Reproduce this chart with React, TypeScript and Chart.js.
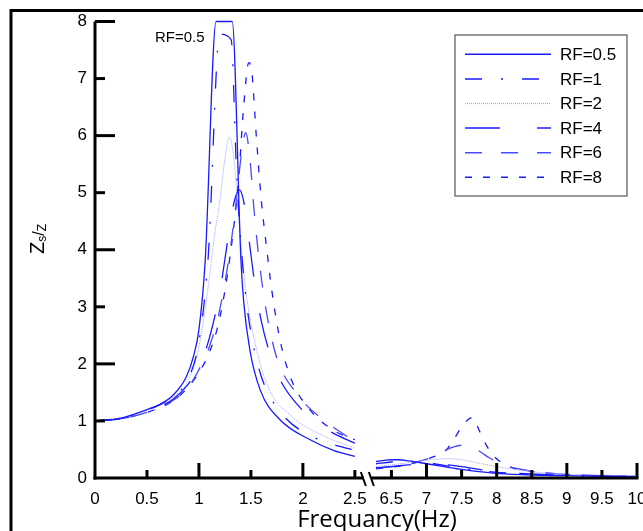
import React, { useEffect, useRef } from 'react';
import { Chart, registerables } from 'chart.js';

Chart.register(...registerables);

// ---------- data ----------
const seriesLabels = ['RF=0.5', 'RF=1', 'RF=2', 'RF=4', 'RF=6', 'RF=8'];

const xTickValues = [0, 0.5, 1, 1.5, 2, 2.5, 6.5, 7, 7.5, 8, 8.5, 9, 9.5, 10];
const xTickLabels = ['0', '0.5', '1', '1.5', '2', '2.5', '6.5', '7', '7.5', '8', '8.5', '9', '9.5', '10'];
const xLongTicks = [1, 2, 7, 8, 9, 10];
const yTickValues = [0, 1, 2, 3, 4, 5, 6, 7, 8];
const yLongTicks = [2, 4, 6, 8];

// RF=0.5
const rf05LeftX = [0, 0.25, 0.5, 0.625, 0.75, 0.88, 0.95, 1.0, 1.06, 1.165, 1.32, 1.404, 1.43, 1.49, 1.59, 1.78, 2.07, 2.3, 2.5];
const rf05LeftY = [1.0, 1.05, 1.2, 1.29, 1.45, 1.78, 2.15, 2.6, 3.8, 8, 8, 3.82, 3.1, 2.24, 1.54, 1.02, 0.67, 0.48, 0.38];
const rf05RightX = [6.28, 6.4, 6.5, 6.6, 6.75, 7.0, 7.25, 7.5, 7.75, 8, 8.5, 9, 9.5, 10];
const rf05RightY = [0.29, 0.31, 0.32, 0.32, 0.3, 0.25, 0.2, 0.15, 0.11, 0.08, 0.05, 0.04, 0.03, 0.02];

// RF=1
const rf1LeftX = [0, 0.25, 0.5, 0.75, 0.9, 1.0, 1.09, 1.2, 1.31, 1.36, 1.4, 1.45, 1.5, 1.6, 1.8, 2.1, 2.5];
const rf1LeftY = [1.0, 1.05, 1.19, 1.43, 1.75, 2.4, 3.9, 7.78, 7.68, 5.45, 4.2, 3.2, 2.55, 1.78, 1.12, 0.72, 0.48];
const rf1RightX = [6.28, 6.5, 6.75, 7.0, 7.25, 7.5, 7.75, 8, 8.5, 9, 9.5, 10];
const rf1RightY = [0.25, 0.28, 0.29, 0.27, 0.22, 0.17, 0.13, 0.1, 0.06, 0.04, 0.03, 0.02];

// RF=2
const rf2LeftX = [0, 0.25, 0.5, 0.75, 0.9, 1.0, 1.1, 1.15, 1.2, 1.25, 1.29, 1.33, 1.38, 1.45, 1.52, 1.65, 1.9, 2.2, 2.5];
const rf2LeftY = [1.0, 1.05, 1.18, 1.42, 1.72, 2.3, 3.5, 4.25, 4.85, 5.6, 5.97, 5.7, 4.6, 3.3, 2.54, 1.66, 1.07, 0.74, 0.52];
const rf2RightX = [6.28, 6.5, 6.75, 7.0, 7.3, 7.55, 7.75, 8.0, 8.25, 8.5, 9, 9.5, 10];
const rf2RightY = [0.2, 0.23, 0.27, 0.31, 0.34, 0.31, 0.26, 0.2, 0.15, 0.11, 0.07, 0.05, 0.03];

// RF=4
const rf4LeftX = [0, 0.25, 0.5, 0.75, 0.9, 1.0, 1.1, 1.2, 1.28, 1.34, 1.39, 1.43, 1.48, 1.53, 1.6, 1.75, 2.0, 2.25, 2.5];
const rf4LeftY = [1.0, 1.04, 1.16, 1.38, 1.65, 1.95, 2.45, 3.25, 4.2, 4.85, 5.05, 4.85, 4.2, 3.5, 2.75, 1.85, 1.18, 0.83, 0.61];
const rf4RightX = [6.28, 6.5, 6.75, 7.0, 7.2, 7.5, 7.75, 8, 8.5, 9, 9.5, 10];
const rf4RightY = [0.18, 0.2, 0.23, 0.25, 0.24, 0.2, 0.15, 0.11, 0.07, 0.05, 0.04, 0.03];

// RF=6
const rf6LeftX = [0, 0.25, 0.5, 0.75, 0.9, 1.0, 1.1, 1.2, 1.3, 1.36, 1.41, 1.45, 1.49, 1.53, 1.58, 1.65, 1.75, 1.94, 2.16, 2.5];
const rf6LeftY = [1.0, 1.04, 1.15, 1.36, 1.6, 1.9, 2.3, 2.95, 4.0, 4.87, 5.7, 6.05, 5.6, 4.7, 3.8, 2.9, 2.1, 1.48, 1.07, 0.64];
const rf6RightX = [6.28, 6.5, 6.75, 7.0, 7.15, 7.28, 7.4, 7.57, 7.69, 7.8, 7.9, 8.1, 8.4, 8.8, 9.5, 10];
const rf6RightY = [0.17, 0.2, 0.25, 0.33, 0.4, 0.49, 0.55, 0.58, 0.52, 0.43, 0.35, 0.23, 0.14, 0.08, 0.04, 0.03];

// RF=8
const rf8LeftX = [0, 0.25, 0.5, 0.75, 0.9, 1.0, 1.1, 1.2, 1.3, 1.38, 1.43, 1.48, 1.51, 1.55, 1.6, 1.65, 1.7, 1.78, 1.89, 2.07, 2.29, 2.5];
const rf8LeftY = [1.0, 1.04, 1.15, 1.35, 1.6, 1.85, 2.2, 2.8, 3.9, 5.2, 6.5, 7.28, 7.1, 6.04, 4.87, 4.05, 3.3, 2.42, 1.72, 1.19, 0.84, 0.67];
const rf8RightX = [6.28, 6.5, 6.75, 7.05, 7.28, 7.4, 7.52, 7.65, 7.76, 7.85, 7.97, 8.18, 8.47, 8.95, 9.5, 10];
const rf8RightY = [0.16, 0.19, 0.24, 0.35, 0.49, 0.7, 0.93, 1.06, 0.81, 0.58, 0.37, 0.2, 0.12, 0.065, 0.04, 0.02];

// ---------- broken axis mapping ----------
const BREAK_LEFT = 2.5;
const BREAK_RIGHT = 6.5;
const BREAK_GAP = 0.352;
const RIGHT_RATIO = 0.675;
function mapX(x: number): number {
  return x <= 4 ? x : BREAK_LEFT + BREAK_GAP + (x - BREAK_RIGHT) * RIGHT_RATIO;
}

function buildPoints(lx: number[], ly: number[], rx: number[], ry: number[]) {
  const pts: { x: number; y: number | null }[] = [];
  lx.forEach((x, i) => pts.push({ x: mapX(x), y: ly[i] }));
  pts.push({ x: mapX(4), y: null });
  rx.forEach((x, i) => pts.push({ x: mapX(x), y: ry[i] }));
  return pts;
}

const BLUE = '#1a1aff';
const styles = [
  { color: BLUE, width: 1.3, dash: [] as number[] },
  { color: BLUE, width: 1.3, dash: [17, 19, 2, 19] },
  { color: '#a0a0ff', width: 1, dash: [1, 1] },
  { color: BLUE, width: 1.3, dash: [35, 37] },
  { color: '#4a4aff', width: 1.3, dash: [17, 19] },
  { color: BLUE, width: 1.3, dash: [7, 11] },
];

const overlay = {
  id: 'overlay',
  afterDraw(chart: any) {
    const ctx = chart.ctx as CanvasRenderingContext2D;
    const xs = chart.scales.x;
    const ys = chart.scales.y;
    const left = chart.chartArea.left;
    const bottom = chart.chartArea.bottom;
    const top = chart.chartArea.top;
    ctx.save();
    ctx.strokeStyle = '#000';
    ctx.lineCap = 'butt';
    // outer frame
    ctx.lineWidth = 3;
    ctx.beginPath();
    ctx.moveTo(11, 531);
    ctx.lineTo(11, 10.5);
    ctx.lineTo(643, 10.5);
    ctx.stroke();
    // y axis
    ctx.beginPath();
    ctx.moveTo(left, bottom + 1.5);
    ctx.lineTo(left, top);
    ctx.stroke();
    // y ticks
    yTickValues.forEach((v) => {
      if (v === 0) return;
      const py = ys.getPixelForValue(v);
      const len = yLongTicks.includes(v) ? 20 : 10;
      ctx.beginPath();
      ctx.moveTo(left, py);
      ctx.lineTo(left + len, py);
      ctx.stroke();
    });
    // x axis (broken)
    const pBreakA = xs.getPixelForValue(mapX(BREAK_LEFT)) + 9;
    const pBreakB = pBreakA + 7;
    const pEnd = xs.getPixelForValue(mapX(10));
    ctx.beginPath();
    ctx.moveTo(left - 1.5, bottom);
    ctx.lineTo(pBreakA, bottom);
    ctx.moveTo(pBreakB, bottom);
    ctx.lineTo(pEnd + 1.5, bottom);
    ctx.stroke();
    // break marks
    ctx.lineWidth = 2;
    ctx.beginPath();
    ctx.moveTo(pBreakA - 3, bottom - 6);
    ctx.lineTo(pBreakA + 2, bottom + 8);
    ctx.moveTo(pBreakB - 2, bottom - 6);
    ctx.lineTo(pBreakB + 3, bottom + 8);
    ctx.stroke();
    ctx.lineWidth = 3;
    // x ticks
    xTickValues.forEach((v) => {
      if (v === 0) return;
      const px = xs.getPixelForValue(mapX(v));
      const len = xLongTicks.includes(v) ? 15 : 8;
      ctx.beginPath();
      ctx.moveTo(px, bottom);
      ctx.lineTo(px, bottom - len);
      ctx.stroke();
    });

    // annotation
    ctx.fillStyle = '#000';
    ctx.font = '15px "Liberation Sans", Arial, sans-serif';
    ctx.textAlign = 'left';
    ctx.textBaseline = 'middle';
    ctx.fillText('RF=0.5', 155, 37.5);

    // x title
    ctx.font = '24px "Open Sans", sans-serif';
    ctx.textAlign = 'center';
    ctx.textBaseline = 'alphabetic';
    ctx.fillText('Frequancy(Hz)', 377, 527);

    // y title
    ctx.save();
    ctx.translate(44, 254);
    ctx.rotate(-Math.PI / 2);
    ctx.textAlign = 'left';
    ctx.textBaseline = 'alphabetic';
    let cx = 0;
    ctx.font = '20px "Liberation Sans", Arial, sans-serif';
    ctx.fillText('Z', cx, 0);
    cx += ctx.measureText('Z').width;
    ctx.font = '12px "Liberation Sans", Arial, sans-serif';
    ctx.fillText('s', cx, 2);
    cx += ctx.measureText('s').width;
    ctx.font = '16px "Liberation Sans", Arial, sans-serif';
    ctx.fillText('/', cx, 0);
    cx += ctx.measureText('/').width;
    ctx.font = '12px "Liberation Sans", Arial, sans-serif';
    ctx.fillText('Z', cx, 2);
    ctx.restore();

    // legend
    const lx = 455, ly = 35, lw = 172, lh = 161;
    ctx.strokeStyle = '#555';
    ctx.lineWidth = 1.2;
    ctx.strokeRect(lx, ly, lw, lh);
    ctx.font = '17px "Liberation Sans", Arial, sans-serif';
    ctx.textAlign = 'left';
    ctx.textBaseline = 'middle';
    seriesLabels.forEach((lab, i) => {
      const y = 54.3 + i * 24.6;
      const st = styles[i];
      ctx.strokeStyle = st.color;
      ctx.lineWidth = st.width + 0.2;
      ctx.setLineDash(st.dash);
      ctx.lineDashOffset = 0;
      ctx.beginPath();
      ctx.moveTo(465, y);
      ctx.lineTo(551, y);
      ctx.stroke();
      ctx.setLineDash([]);
      ctx.fillStyle = '#000';
      ctx.fillText(lab, 560, y + 1);
    });
    ctx.restore();
  },
};

export default function App() {
  const ref = useRef<HTMLCanvasElement | null>(null);
  useEffect(() => {
    if (!ref.current) return;
    const allX = [rf05LeftX, rf1LeftX, rf2LeftX, rf4LeftX, rf6LeftX, rf8LeftX];
    const allY = [rf05LeftY, rf1LeftY, rf2LeftY, rf4LeftY, rf6LeftY, rf8LeftY];
    const allRX = [rf05RightX, rf1RightX, rf2RightX, rf4RightX, rf6RightX, rf8RightX];
    const allRY = [rf05RightY, rf1RightY, rf2RightY, rf4RightY, rf6RightY, rf8RightY];
    const datasets = seriesLabels.map((lab, i) => ({
      label: lab,
      data: buildPoints(allX[i], allY[i], allRX[i], allRY[i]),
      borderColor: styles[i].color,
      borderWidth: styles[i].width,
      borderDash: styles[i].dash,
      pointRadius: 0,
      fill: false,
      spanGaps: false,
      cubicInterpolationMode: 'monotone' as const,
      clip: 4,
    }));
    const chart = new Chart(ref.current, {
      type: 'line',
      data: { datasets },
      options: {
        animation: false,
        responsive: false,
        devicePixelRatio: 1,
        layout: { padding: { left: 0, top: 21.5, right: 6, bottom: 0 } },
        plugins: { legend: { display: false }, tooltip: { enabled: false } },
        scales: {
          x: {
            type: 'linear',
            min: 0,
            max: mapX(10),
            grid: { display: false, drawTicks: false },
            border: { display: false },
            afterBuildTicks: (scale: any) => {
              scale.ticks = xTickValues.map((v) => ({ value: mapX(v) }));
            },
            afterFit: (scale: any) => {
              scale.height = 53;
              scale.paddingLeft = 0;
              scale.paddingRight = 0;
            },
            ticks: {
              autoSkip: false,
              maxRotation: 0,
              padding: 11,
              color: '#000',
              font: { family: '"Liberation Sans", Arial, sans-serif', size: 17 },
              callback: (_v: any, idx: number) => xTickLabels[idx],
            },
          },
          y: {
            type: 'linear',
            min: 0,
            max: 8,
            grid: { display: false, drawTicks: false },
            border: { display: false },
            afterBuildTicks: (scale: any) => {
              scale.ticks = yTickValues.map((v) => ({ value: v }));
            },
            afterFit: (scale: any) => {
              scale.width = 95;
              scale.paddingTop = 0;
              scale.paddingBottom = 0;
            },
            ticks: {
              padding: 8,
              color: '#000',
              font: { family: '"Liberation Sans", Arial, sans-serif', size: 17 },
              callback: (v: any) => String(v),
            },
          },
        },
      },
      plugins: [overlay],
    });
    return () => chart.destroy();
  }, []);
  return (
    <div style={{ position: 'fixed', left: 0, top: 0, width: 643, height: 531, background: '#fff' }}>
      <canvas ref={ref} width={643} height={531} style={{ display: 'block', width: 643, height: 531 }} />
    </div>
  );
}
